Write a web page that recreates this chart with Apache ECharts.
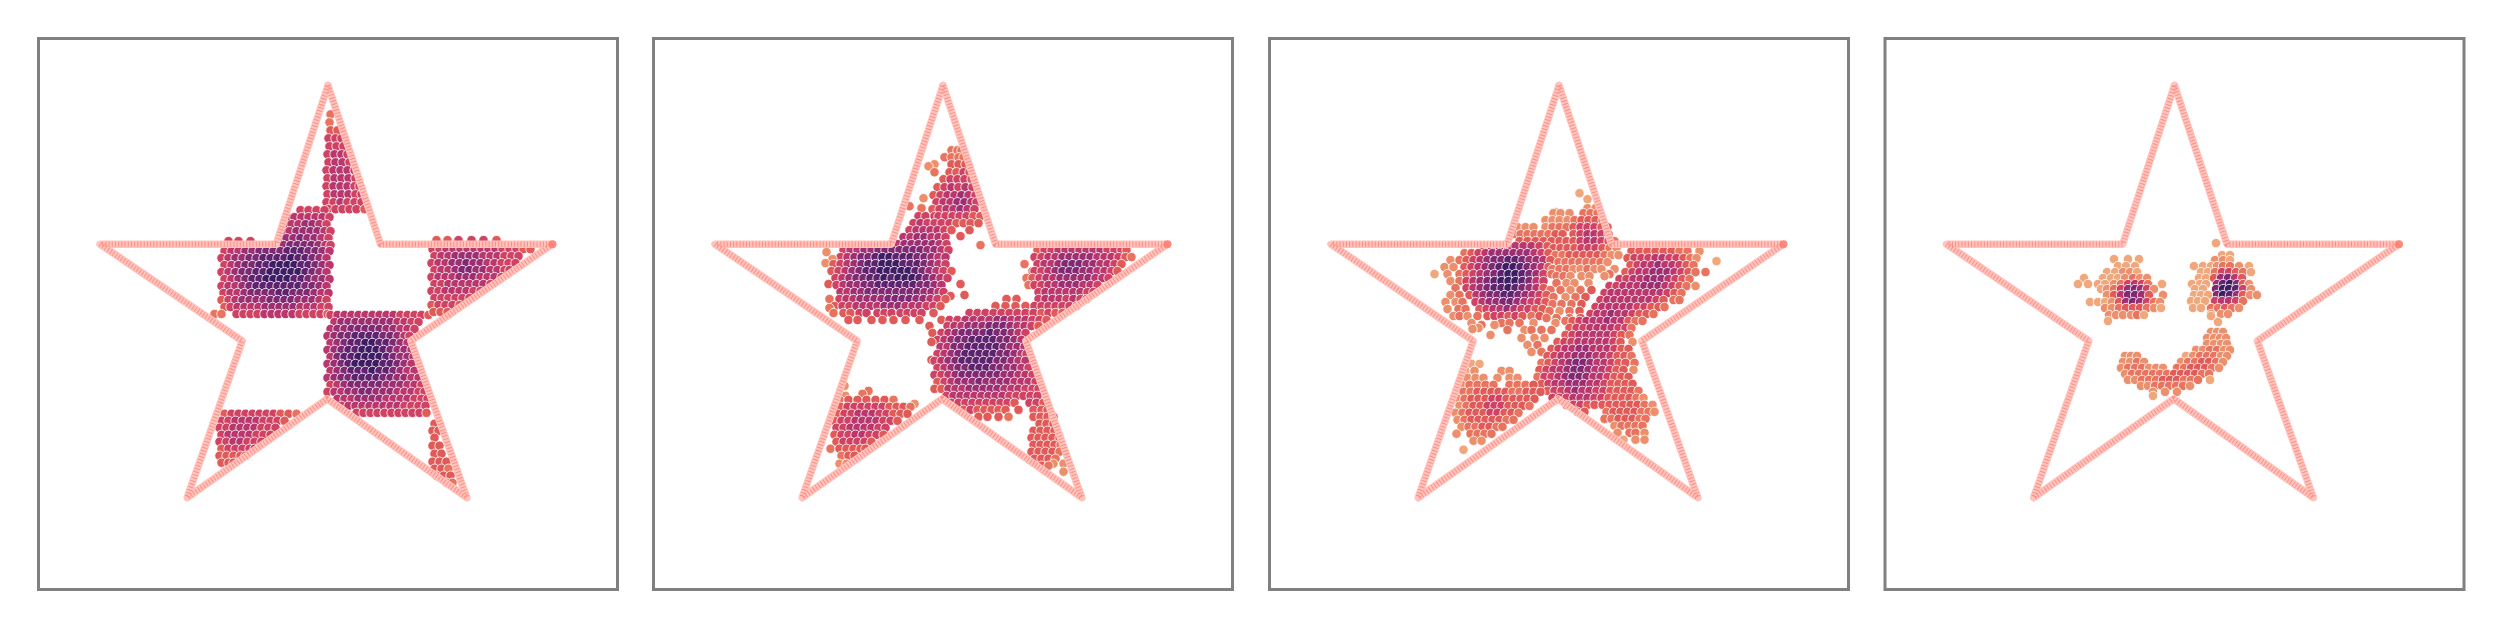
<!DOCTYPE html>
<html><head><meta charset="utf-8"><style>html,body{margin:0;background:#fff}#c{width:2500px;height:625px}</style>
<script src="https://cdn.jsdelivr.net/npm/echarts@6/dist/echarts.min.js"></script></head><body><div id="c"></div><script>
// Values are estimates. The dots are too dense to recover one by one, so the
// dense blobs are hand-read row samples: positions and density shades follow the picture, not each dot.
// Row format: [y, x, shade, x, shade, ...]; shade 0 = light orange ... 9 = darkest purple.
const starX=[289.5,342,514,372.4,428.4,288.7,148.6,203.7,61.5,237.7,289.5];
const starY=[47,206,206,303,460,361,460,303,206,206,47];
const tipPoint=[514,206];
const shadeColors=['#f0a77c','#ec8f6c','#e8745f','#e05a58','#cf4263','#b9376c','#9c2f72','#7f2973','#5e226f','#3f1c63'];
const frameLefts=[38.5,653.5,1269.5,1885];
const panel1=[
[76,292,2],[84,291,2],[92,292,3,299,3],[100,290,4,297,4,303,4],[108,291,4,298,4,305,4],[116,289,4,296,5,303,5,309,4],[124,290,4,297,5,304,5,311,4],[132,288,4,295,5,302,5,309,5,316,4],[140,289,4,296,5,303,5,310,5,317,4],[148,288,4,295,5,302,5,309,5,316,4,321,4],[156,289,4,296,5,303,5,310,5,317,4,323,4],[164,288,4,295,4,302,5,309,4,316,4,323,4],[171,290,4,297,4,304,4,311,4,318,4,326,3],
[172,262,4,270,4,278,4,286,4],[179,249,4,256,5,263,5,270,5,277,5,284,5,291,4],[186,246,4,253,5,260,5,267,6,274,6,281,5,288,4],[193,244,5,251,5,258,6,265,6,272,6,279,6,286,5,292,4],[200,241,5,248,6,255,6,262,7,269,6,276,6,283,5,290,4],[203,190,4,200,4,212,4],[207,238,6,245,6,252,7,259,7,266,7,273,7,280,6,287,5,292,4],
[213,186,4,193,5,200,5,207,6,214,6,221,7,228,7,235,7,242,7,249,8,256,8,263,8,270,7,277,7,284,6,291,5],[220,183,4,190,5,197,6,204,6,211,7,218,7,225,8,232,8,239,8,246,8,253,9,260,8,267,8,274,7,281,6,288,5],[227,186,4,193,5,200,6,207,7,214,7,221,8,228,8,235,9,242,9,249,9,256,9,263,8,270,8,277,7,284,6,291,5],[234,183,4,190,5,197,6,204,7,211,7,218,8,225,8,232,9,239,9,246,9,253,9,260,9,267,8,274,7,281,6,288,5],[241,186,4,193,5,200,6,207,7,214,8,221,8,228,9,235,9,242,9,249,9,256,8,263,8,270,7,277,6,284,6,291,5],[248,183,4,190,5,197,5,204,6,211,7,218,8,225,8,232,8,239,8,246,8,253,8,260,8,267,7,274,7,281,6,288,5],[255,185,4,192,5,199,5,206,6,213,7,220,7,227,7,234,7,241,8,248,8,255,7,262,7,269,7,276,6,283,5,290,5],[262,183,3,190,4,197,5,204,6,211,6,218,6,225,6,232,7,239,7,246,7,253,7,260,6,267,6,274,6,281,5,288,4],[269,186,3,192,4,199,5,206,5,213,5,220,5,227,6,234,6,241,6,248,6,255,6,262,5,269,5,276,5,283,4,290,4],[276,176,2,183,2,198,4,205,4,212,4,219,4,226,5,233,5,240,5,247,5,254,5,261,4,268,4,275,4,282,4,289,3],
[277,292,4,299,5,306,5,313,5,320,5,327,5,334,5,341,5,348,5,355,5,362,4,369,4,376,4,383,4,390,3],[284,296,5,303,6,310,6,317,6,324,6,331,6,338,6,345,6,352,6,359,5,366,5,373,4,380,4],[291,292,5,299,6,306,6,313,7,320,7,327,7,334,7,341,7,348,6,355,6,362,5,369,5,376,4],[298,289,5,296,6,303,7,310,7,317,8,324,8,331,8,338,8,345,7,352,7,359,6,366,5,371,4],[305,292,5,299,6,306,7,313,8,320,8,327,9,334,9,341,8,348,8,355,7,362,6,369,5],[312,289,5,296,6,303,7,310,8,317,8,324,9,331,9,338,9,345,8,352,7,359,6,366,6,373,5],[319,292,5,299,7,306,8,313,8,320,9,327,9,334,9,341,9,348,8,355,7,362,6,369,6,375,5],[326,289,5,296,6,303,7,310,8,317,9,324,9,331,9,338,9,345,8,352,8,359,7,366,6,373,5],[333,292,5,299,6,306,7,313,8,320,8,327,8,334,9,341,8,348,8,355,7,362,6,369,5,376,5],[340,289,5,296,6,303,7,310,7,317,8,324,8,331,8,338,8,345,7,352,7,359,6,366,6,373,5,380,5],[347,292,4,299,5,306,6,313,7,320,7,327,7,334,7,341,7,348,6,355,6,362,6,369,5,376,5,383,4],[354,289,4,296,5,303,5,310,6,317,6,324,7,331,7,338,6,345,6,352,6,359,5,366,5,373,5,380,4,386,4],[361,299,5,306,5,313,5,320,6,327,6,334,6,341,6,348,5,355,5,362,5,369,5,376,4,383,4,389,4],[368,303,4,310,5,317,5,324,5,331,5,338,5,345,5,352,5,359,5,366,4,373,4,380,4,387,4],[375,318,4,325,4,332,4,339,4,346,4,353,4,360,4,367,4,374,4,381,4,388,3],
[202,398,3,409,3,420,4,433,4,445,4,458,3],[211,394,4,401,4,408,5,415,5,422,5,429,5,436,5,443,5,450,5,457,5,464,4,471,4,478,4,485,3,492,3],[218,396,4,403,5,410,5,417,6,424,6,431,6,438,6,445,5,452,5,459,5,466,4,473,4,480,4],[225,393,4,400,5,407,5,414,6,421,6,428,7,435,6,442,6,449,5,456,5,463,4,470,4,477,4],[232,396,4,403,5,410,5,417,6,424,7,431,7,438,6,445,6,452,5,459,5,466,4,471,4],[239,393,4,400,5,407,5,414,5,421,6,428,6,435,6,442,5,449,5,456,5,463,4],[246,396,4,403,4,410,5,417,5,424,5,431,5,438,5,445,5,452,4],[253,393,4,400,4,407,5,414,5,421,5,428,5,435,4,442,4],[260,396,4,403,4,410,4,417,4,424,4,431,4],[267,393,3,400,4,407,4,414,4,421,3],[274,395,3,402,3,409,3],
[376,186,3,193,4,200,4,207,4,214,4,221,4,228,4,235,4,242,3,250,3,258,2],[383,183,4,190,4,197,5,204,5,211,5,218,5,225,4,232,4,239,4,246,3],[390,181,4,188,4,195,5,202,5,209,5,216,5,223,4,230,4,237,4],[397,183,4,190,5,197,5,204,5,211,5,218,4,225,4,232,4],[404,181,4,188,4,195,5,202,5,209,4,216,4,223,4],[411,183,3,190,4,197,4,204,4,211,4,216,4],[418,181,3,188,3,195,3,202,3,207,3],[425,183,3,190,3,195,3],
[386,396,3],[393,394,3,400,3],[400,396,3],[408,394,3,401,3],[416,396,3,403,3],[424,394,3,401,3,408,3],[431,396,3,403,3,410,2],[438,398,3,405,3,412,3],[445,408,2,414,2]
];
const panel2=[
[112,298,2,304,2,308,2],[119,291,2,298,2,305,2,310,2],[126,281,1,298,3,305,3,312,3],[128,275,1],[134,281,2,296,3,303,3,310,4,316,3],[141,290,3,297,4,304,4,311,4,318,3],[149,284,3,291,4,298,5,305,4,312,5,319,4],[157,280,3,287,4,294,5,301,5,308,6,315,5,322,4],[160,270,1],[164,283,4,290,5,297,5,304,6,311,6,318,5,323,4],[168,256,2],[170,268,2],[171,279,3,286,4,293,5,300,5,307,6,314,5,321,4],[178,265,4,272,4,281,4,285,4,292,4,299,4,306,4,313,4,320,3,327,3],[185,260,4,267,5,274,4,281,4,288,4,296,4,303,3,310,3,317,3,325,3],[192,256,4,263,5,270,5,277,5,284,5,291,4,298,3,316,3],[198,307,3],[199,250,5,257,5,264,6,271,6,278,5,285,5,292,4],[206,244,5,251,6,258,6,265,6,272,6,279,6,286,5,293,4],[207,327,2],
[212,190,4,197,5,204,5,211,6,218,6,225,7,232,7,239,7,246,7,253,7,260,7,267,7,274,6,281,6,288,5,295,4,384,3,391,4,398,4,405,5,412,5,419,5,426,5,433,5,440,5,447,5,454,4,461,4,468,4,473,3],[214,173,1],[219,187,4,194,5,201,6,208,7,215,7,222,8,229,9,236,9,243,8,250,8,257,8,264,7,271,7,278,6,285,5,292,5,381,4,388,4,395,5,402,5,409,6,416,6,423,6,430,6,437,6,444,5,451,5,458,5,465,4,472,3,478,2],[221,179,1],[225,172,1],[226,180,3,187,4,194,5,201,6,208,7,215,8,222,8,229,9,236,9,243,9,250,8,257,8,264,8,271,7,278,6,285,5,292,4,371,2,384,4,391,5,398,5,405,6,412,7,419,7,426,7,433,6,440,6,447,5,454,5,461,4,468,3],[233,178,3,185,4,192,5,199,6,206,7,213,8,220,8,227,9,234,9,241,9,248,9,255,9,262,8,269,7,276,6,283,5,290,4,298,3,379,2,381,4,388,4,395,5,402,6,409,7,416,7,423,7,430,6,437,6,444,5,451,5,458,4,464,3],[240,182,4,189,5,196,6,203,7,210,7,217,8,224,8,231,9,238,8,245,9,252,9,259,9,266,8,273,7,280,6,287,5,294,4,373,2,379,3,386,4,393,5,400,5,407,6,414,6,421,6,428,6,435,6,442,5,449,5,455,4],[246,175,3,307,3],[247,183,4,190,5,197,6,204,6,211,7,218,7,225,8,232,8,239,8,246,8,253,8,260,8,267,7,274,7,281,6,288,5,375,2,381,4,388,4,395,5,402,5,409,6,416,6,423,6,430,5,437,5,444,4],[254,187,5,194,5,201,6,208,6,215,7,222,7,229,7,236,7,243,7,250,7,257,7,264,7,271,6,278,6,285,5,290,4,385,4,392,5,399,5,406,5,413,5,420,5,427,5,434,4,440,4],[257,311,3],[258,297,3],[261,176,2,186,4,193,5,200,5,207,6,214,6,221,6,228,6,235,7,242,7,249,7,256,7,263,6,270,6,277,5,284,4,292,3,353,3,363,3,385,4,392,5,399,5,406,5,413,4,420,5,427,4,433,4],[268,181,3,189,4,196,4,203,5,210,5,217,5,224,5,231,6,238,6,245,6,252,5,259,5,266,5,273,4,280,4,287,3,342,3,352,3,362,3,372,3,381,4,388,4,395,4,402,4,409,4,416,4,423,3],[270,176,2],[275,180,2,190,3,197,3,206,4,213,4,224,4,231,4,238,4,247,4,254,4,261,4,268,4,280,3,316,4,324,4,332,4,340,4,348,4,356,4,364,4,372,4,380,4,388,3,395,4,402,3,409,3],[282,195,3,204,3,218,3,229,3,240,3,252,3,266,3,288,3,296,4,304,4,312,5,320,5,328,5,336,5,344,6,351,6,358,5,365,5,372,5,379,4,386,4,393,3],
[288,276,3,294,4,301,5,308,5,315,6,322,6,329,6,336,7,343,7,350,7,357,6,364,5,371,5,378,4,385,3],[295,279,3,288,4,295,5,302,6,309,7,316,7,323,7,330,7,337,8,344,7,351,7,358,6,365,5,372,4],[302,284,4,291,5,298,6,305,7,312,7,319,8,326,8,333,8,340,8,347,7,354,7,361,6,368,5],[304,278,3],[309,287,5,294,5,301,7,308,7,315,8,322,8,329,8,336,8,343,8,350,7,357,6,364,6,371,5],[316,284,4,291,5,298,6,305,7,312,8,319,8,326,8,333,8,340,8,347,7,354,7,361,6,368,5,373,4],[322,278,3],[323,281,4,288,5,295,6,302,7,309,8,316,8,323,8,330,8,337,8,344,7,351,7,358,6,365,5,372,5],[330,284,4,291,5,298,6,305,7,312,7,319,8,326,8,333,8,340,7,347,7,354,6,361,6,368,5,375,4],[337,281,4,288,4,295,5,302,6,309,7,316,7,323,7,330,7,337,7,344,7,351,6,358,6,365,5,372,5,379,4],[344,284,3,291,4,298,5,305,6,312,6,319,6,326,7,333,6,340,6,347,6,354,6,361,5,368,5,375,5,382,4],[351,281,3,288,3,295,5,302,5,309,5,316,6,323,6,330,6,337,6,344,6,351,5,358,5,365,5,372,4,379,4,385,4],[358,293,4,300,5,307,5,314,5,321,5,328,5,335,5,342,5,349,5,356,4,363,4,370,4,377,4,384,4],[365,298,4,305,4,312,4,319,4,326,4,333,4,340,4,347,4,354,4,361,3,376,4,383,4,390,3],[372,310,3,317,4,324,3,331,3,338,3,345,3,352,3,365,3,380,3,388,3,394,3],[379,325,3,334,3,345,3,355,2,380,3,387,3,394,3,400,3],
[386,386,3,393,3,400,3],[393,380,3,387,3,394,3,401,3],[400,378,3,385,3,392,3,399,3,406,3],[407,380,3,387,3,394,3,401,3,407,2],[414,378,3,385,3,392,3,399,3,406,2],[421,381,3,388,3,395,3,402,2],[426,400,1,410,1],[428,388,3,395,2],[434,410,1],
[348,191,1],[353,215,2],[356,209,2],[358,192,1],[362,186,2,195,3,204,3,213,3,222,3,231,3,240,2],[366,261,1],[369,187,3,194,4,201,4,208,4,215,4,222,4,229,4,236,3,243,3,250,3,257,2],[376,184,3,191,4,198,4,205,5,212,5,219,5,226,4,233,4,240,3,247,3,254,3],[383,181,3,188,4,195,4,202,5,209,5,216,5,223,5,230,4,237,4,244,3],[390,183,4,190,4,197,5,204,5,211,5,218,5,225,4,232,4],[397,181,3,188,4,195,4,202,5,209,5,216,4,223,4,230,3],[404,183,3,190,4,197,4,204,4,211,4,218,3],[411,177,2,186,3,193,3,200,3,207,3,212,3],[418,188,2,195,3,201,3],[426,186,1,193,1]
];
const panel3=[
[155,310,0],[161,318,0],[170,318,1,326,1],[174,286,0],[175,284,1,291,1,300,1,314,2,321,2,328,2],[182,276,1,283,1,290,1,298,1,305,2,312,3,319,3,326,3,333,2],[189,248,1,256,1,264,1,276,1,283,2,290,2,297,2,304,3,311,4,318,4,325,4,332,3,338,3],[196,244,2,251,2,258,2,265,2,272,2,279,2,286,3,293,3,304,3,311,4,318,5,325,5,332,4,339,3],[203,250,3,258,3,266,3,274,3,282,3,290,3,297,3,304,3,311,4,318,5,325,5,332,4,339,3,345,2],
[208,214,3,222,4,230,5,238,5,246,5,254,5,262,5,270,4,278,3],[210,284,3,291,3,298,3,305,3,312,4,319,4,326,4,333,3,340,2,347,1],[215,195,2,202,3,209,4,216,5,223,6,230,6,237,6,244,6,251,6,258,6,265,5,272,4,279,3],[217,286,2,293,2,300,3,307,3,314,3,321,3,328,3,335,2,342,1,349,1],[222,181,1,190,2,197,3,204,4,211,5,218,6,225,7,232,7,239,8,246,8,253,7,260,6,267,6,274,5,281,3],[224,289,2,296,2,303,2,310,2,317,2,324,2,331,2,338,1],[229,175,1,184,1,195,3,202,4,209,5,216,6,223,7,230,8,237,9,244,9,251,8,258,7,265,6,272,5,279,3],[231,283,2,290,2,297,2,304,1,311,1,318,2,325,1,332,1,345,1],[236,165,0,178,1,190,2,197,3,204,4,211,5,218,6,225,7,232,8,239,9,246,9,253,8,260,7,267,6,274,4,282,2,340,2],[238,287,2,294,2,301,1,312,1,320,1,335,1],[243,181,1,190,2,197,4,204,5,211,6,218,7,225,8,232,9,239,9,246,9,253,8,260,7,267,5,274,4],[245,287,2,297,1,305,1,319,1],[250,186,2,197,4,204,5,211,6,218,7,225,8,232,8,239,9,246,8,253,7,260,6,267,5,274,3],[252,281,2,291,2,301,1,311,2,322,3],[257,181,1,190,2,200,3,207,5,214,6,221,7,228,7,235,8,242,8,249,7,256,6,263,5,270,4,277,3],[259,284,2,296,1,306,2,316,3],[264,176,1,186,1,193,2,206,4,213,5,220,6,227,6,234,7,241,7,248,6,255,5,262,4,269,4,276,3],[266,283,2,292,2,302,2,312,3],[271,178,1,189,2,196,2,210,3,217,4,224,5,231,5,238,6,245,5,252,4,259,4,266,3,273,3],[273,280,2,290,1,300,2,310,3],[278,184,1,190,2,198,1,208,2,218,3,225,4,232,4,239,3,246,4,253,3,262,2,270,3],[280,277,2,287,2,300,2,311,3],[285,202,1,232,2,240,2,250,2,264,1,286,1],[287,212,2,225,1],[290,209,1],[291,203,1],[292,238,2,255,1,262,2,272,2,282,2],[297,221,1],[300,252,1,265,1,275,1],[307,258,1,268,2],[314,262,1,272,2],
[213,362,3,370,3,378,3,386,3,394,3,402,3,410,2,418,2,430,1],[220,358,3,365,4,372,4,379,4,386,5,393,5,400,4,407,4,414,3,421,2,427,1],[223,447,0],[227,361,3,368,4,375,5,382,5,389,6,396,5,403,5,410,4,417,3,424,2],[234,356,3,363,4,370,5,377,5,384,6,391,6,398,6,405,5,412,4,419,3,426,2,436,2],[241,350,4,357,4,364,5,371,5,378,6,385,6,392,6,399,5,406,4,413,3,420,2],[248,340,4,347,4,354,5,361,5,368,5,375,6,382,6,389,6,396,5,403,4,410,3,417,2,426,1],[255,335,4,342,5,349,5,356,5,363,5,370,5,377,5,384,5,391,5,398,4,405,3,412,2],[262,331,4,338,5,345,5,352,5,359,5,366,5,373,5,380,5,387,4,394,3,404,2,410,2],[269,326,4,333,5,340,5,347,5,354,5,361,5,368,4,375,4,382,3,389,3,395,2],[276,321,4,328,5,335,5,342,6,349,5,356,5,363,4,370,3,377,3,384,2],
[283,296,2,303,3,310,4,317,5,324,5,331,5,338,6,345,5,352,5,359,3,366,2,373,2],[290,300,3,307,4,314,4,321,5,328,5,335,5,342,5,349,4,356,4,362,2],[297,296,3,303,4,310,5,317,5,324,5,331,5,338,5,345,4,352,3,360,2],[304,288,3,295,4,302,4,309,5,316,5,323,5,330,5,337,5,344,4,351,3,363,1],[311,282,3,289,4,296,5,303,5,310,6,317,6,324,5,331,5,338,5,345,4,352,3,359,3],[318,278,3,285,4,292,5,299,5,306,6,313,6,320,6,327,5,334,5,341,4,348,3,355,3,362,2],[325,272,2,279,3,286,4,293,5,300,6,307,7,314,7,321,6,328,5,335,5,342,4,349,3,356,3,365,2],[332,270,3,277,4,284,5,291,5,298,6,305,7,312,7,319,6,326,5,333,5,340,4,347,3,354,3,364,1],[339,268,2,275,4,282,4,289,5,296,6,303,7,310,7,317,6,324,5,331,5,338,4,345,3,352,3,359,3],[346,272,3,279,4,286,5,293,5,300,6,307,6,314,6,321,5,328,5,335,4,342,3,349,3,356,3,363,3],[353,278,3,285,4,292,4,299,5,306,6,313,5,320,5,327,4,334,4,341,3,348,3,355,3,362,3,369,2],[360,283,4,290,4,297,4,304,5,311,5,318,5,325,4,332,4,339,3,346,3,353,3,360,3,367,2,374,1],[367,297,3,304,4,311,4,318,3,325,3,333,3,340,3,347,3,354,3,361,3,368,3,375,2,383,1],[374,308,3,315,3,337,2,344,3,351,3,358,3,365,3,372,2,379,2,385,1],[381,335,2,342,2,349,3,356,3,363,3,370,2,376,2],[388,345,1,352,2,359,2,366,2,373,2],[395,348,1,360,2,366,2,375,1],[402,354,0,366,1,375,1],
[326,202,0,210,0],[333,196,0,205,1,232,1,240,1],[340,198,1,206,1,214,1,228,1,240,1,248,1],[347,192,1,200,2,208,2,216,2,224,2,240,2,248,2,256,2,264,3],[354,194,2,201,2,208,3,215,3,222,3,229,3,236,3,243,2,250,2,257,3,264,3,271,3],[361,188,1,195,2,202,3,209,3,216,3,223,4,230,4,237,3,244,3,251,3,258,3,265,3],[368,190,1,197,2,204,3,211,3,218,4,225,4,232,4,239,3,246,3,253,3,260,2],[375,186,1,193,2,200,3,207,3,214,3,221,4,228,4,235,3,242,3,249,2],[382,188,1,195,2,202,3,209,3,216,3,223,3,230,3,237,2,244,2],[389,192,1,199,2,206,2,213,3,220,3,227,2,233,2],[396,187,1,201,2,208,2,215,2,222,2],[403,204,1,212,1],[412,194,0]
];
const panel4=[
[221,229,0,243,0,254,0],[228,233,0,241,0,250,0],[234,222,0,230,0,238,1,245,1,252,0],[240,199,0,218,0,226,0,233,0,240,1,248,2,255,1,262,1],[246,193,0,203,0,213,0,220,0,229,1,236,2,243,4,250,5,257,4,263,2,277,0],[251,216,0,222,1,229,2,236,4,243,6,250,7,256,6,262,4,269,1],[257,222,1,229,3,236,5,243,7,250,7,257,6,264,3,278,1],[264,205,0,213,0,220,0,227,1,234,3,241,6,248,7,255,6,262,4,269,2,275,1],[270,220,1,227,1,234,2,241,3,248,3,255,3,262,2,269,1,276,0],[277,224,1,231,1,238,1,246,1,252,2,259,0],[283,223,0],
[205,331,0],[217,337,0,345,0],[222,330,1,338,1,345,0],[228,309,0,318,0,326,0,332,1,338,2,345,2,354,1,364,0],[234,316,0,323,0,330,2,337,4,344,4,351,3,358,2,366,0],[240,314,0,321,0,329,3,336,6,343,7,350,5,357,3],[246,307,0,315,0,321,0,332,6,338,8,345,9,352,7,358,3,364,1],[251,310,0,318,0,331,7,338,9,344,9,351,8,358,4,366,1],[257,309,0,316,0,323,0,332,7,338,9,345,8,352,6,358,3,365,1,372,1],[263,306,0,313,0,320,0,330,4,337,5,344,5,351,4,358,2],[270,308,0,316,0,326,2,333,2,340,3,347,2,354,1],[276,326,1,336,1,343,1],[278,326,0],[284,333,0],
[294,326,1,332,1,338,1],[300,322,1,329,1,335,1,341,1],[306,322,1,329,1,336,1,342,1],[312,311,1,318,1,325,2,332,2,339,1,345,1],[318,240,1,246,1,252,1,301,0,308,1,315,2,322,2,329,2,336,1,342,1],[324,238,1,245,1,252,2,259,1,296,1,303,2,310,2,317,3,324,3,331,2,338,1],[330,236,1,243,2,250,2,257,2,264,1,271,1,278,1,292,2,299,2,306,3,313,3,320,3,327,2,334,1],[336,240,1,247,2,254,2,261,2,268,2,275,2,282,2,289,3,296,3,303,3,310,3,317,2,324,2],[342,243,1,250,1,257,2,264,2,271,2,278,3,285,3,292,3,299,2,306,2,313,2,325,0],[348,256,1,263,1,270,2,277,2,284,2,291,2,298,2,305,1],[354,268,1,280,1,292,1],[358,268,0]
];
const panels=[panel1,panel2,panel3,panel4];
const expand=rows=>{const out=[];rows.forEach(r=>{for(let i=1;i<r.length;i+=2)out.push([r[i],r[0],r[i+1]]);});return out;};
const starLine=starX.map((x,i)=>[x,starY[i]]);
const grids=[],xAxes=[],yAxes=[],series=[];
panels.forEach((rows,i)=>{
  grids.push({left:frameLefts[i],top:38.5,width:579,height:551,show:true,borderColor:'#808080',borderWidth:3,backgroundColor:'#fff'});
  xAxes.push({type:'value',gridIndex:i,min:0,max:579,show:false});
  yAxes.push({type:'value',gridIndex:i,min:0,max:552,inverse:true,show:false});
  series.push({type:'scatter',xAxisIndex:i,yAxisIndex:i,data:expand(rows),symbolSize:9.4,z:2,silent:true,itemStyle:{borderColor:'rgba(255,255,255,0.8)',borderWidth:1,opacity:1}});
});
panels.forEach((rows,i)=>{
  series.push({type:'line',xAxisIndex:i,yAxisIndex:i,data:starLine,showSymbol:false,z:3,silent:true,lineStyle:{color:'#ffc4be',width:7.5,join:'round',cap:'round'}});
  series.push({type:'line',xAxisIndex:i,yAxisIndex:i,data:starLine,showSymbol:false,z:4,silent:true,lineStyle:{color:'#ff8d82',width:5.5,type:[1,2.2],join:'round'}});
  series.push({type:'scatter',xAxisIndex:i,yAxisIndex:i,data:[tipPoint],symbolSize:8,z:5,silent:true,itemStyle:{color:'#ff7b6e'}});
});
const chart=echarts.init(document.getElementById('c'),null,{renderer:'canvas'});
chart.setOption({animation:false,backgroundColor:'#fff',grid:grids,xAxis:xAxes,yAxis:yAxes,
  visualMap:{show:false,type:'continuous',min:0,max:9,dimension:2,seriesIndex:[0,1,2,3],inRange:{color:shadeColors}},
  series});
</script></body></html>
